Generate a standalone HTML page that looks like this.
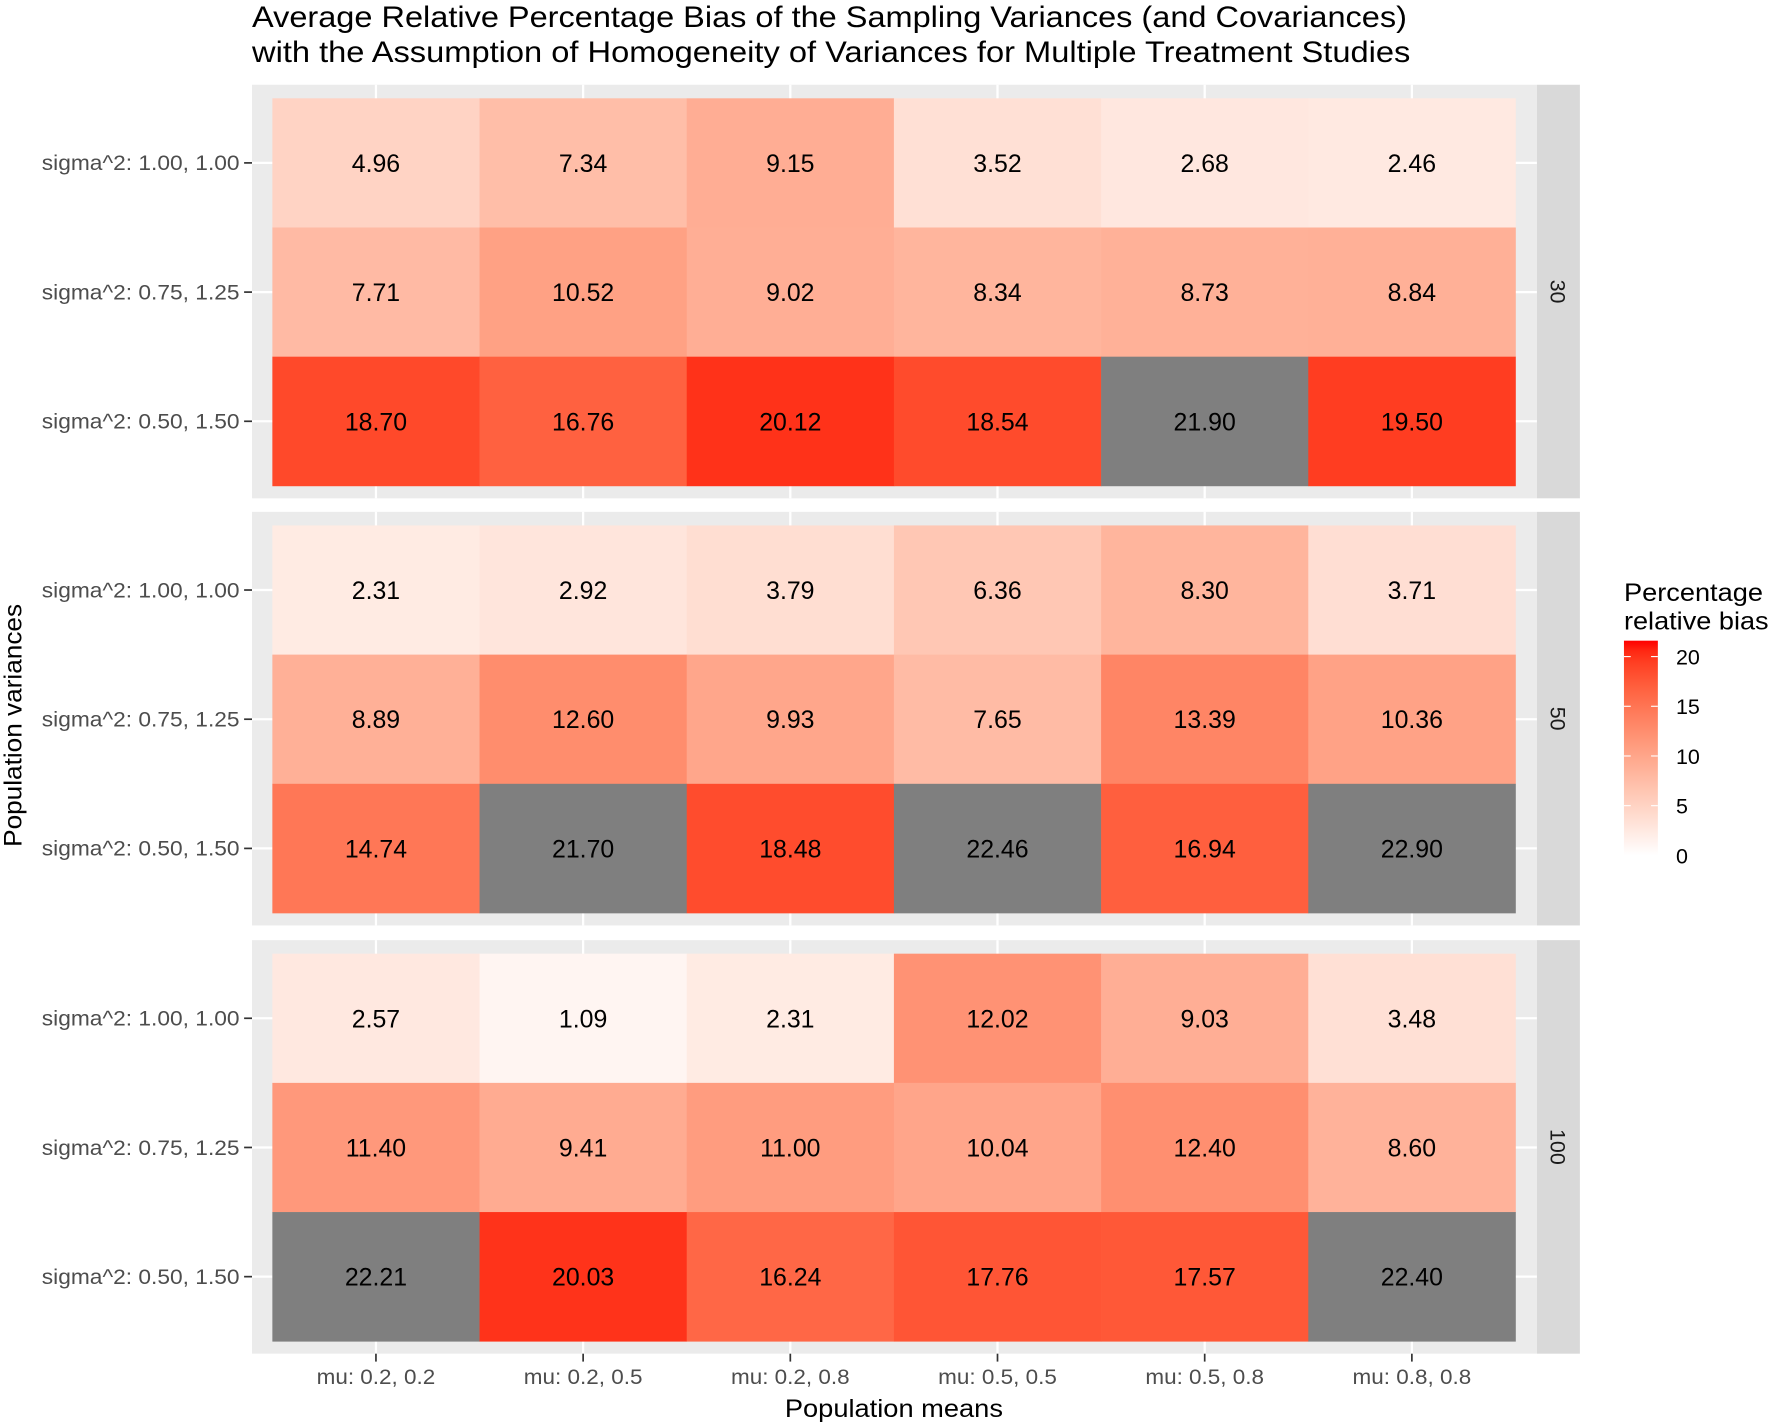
<!DOCTYPE html>
<html><head><meta charset="utf-8"><style>
html,body{margin:0;padding:0;background:#fff;}
svg{display:block;font-family:"Liberation Sans",Arial,sans-serif;}
</style></head><body>
<svg id="chart" width="1772" height="1426" viewBox="0 0 1568 1262" preserveAspectRatio="none" xmlns="http://www.w3.org/2000/svg">
<text x="223" y="24" font-size="26" textLength="1022" lengthAdjust="spacingAndGlyphs" fill="#000">Average Relative Percentage Bias of the Sampling Variances (and Covariances)</text>
<text x="223" y="55" font-size="26" textLength="1025" lengthAdjust="spacingAndGlyphs" fill="#000">with the Assumption of Homogeneity of Variances for Multiple Treatment Studies</text>
<g id="panels"></g>
<text x="791" y="1254" font-size="22" textLength="193" lengthAdjust="spacingAndGlyphs" text-anchor="middle" fill="#000">Population means</text>
<text transform="translate(19,642) rotate(-90)" font-size="22" textLength="215" lengthAdjust="spacingAndGlyphs" text-anchor="middle" fill="#000">Population variances</text>
<g id="legend">
<text x="1437" y="532" font-size="22" textLength="123" lengthAdjust="spacingAndGlyphs" fill="#000">Percentage</text>
<text x="1437" y="557" font-size="22" textLength="128" lengthAdjust="spacingAndGlyphs" fill="#000">relative bias</text>
<defs><linearGradient id="lg" x1="0" y1="1" x2="0" y2="0"></linearGradient></defs>
</g>
</svg>
<script>
const columns = ["mu: 0.2, 0.2","mu: 0.2, 0.5","mu: 0.2, 0.8","mu: 0.5, 0.5","mu: 0.5, 0.8","mu: 0.8, 0.8"];
const rows = ["sigma^2: 1.00, 1.00","sigma^2: 0.75, 1.25","sigma^2: 0.50, 1.50"];
const facets = ["30","50","100"];
const values30 = [[4.96,7.34,9.15,3.52,2.68,2.46],[7.71,10.52,9.02,8.34,8.73,8.84],[18.70,16.76,20.12,18.54,21.90,19.50]];
const values50 = [[2.31,2.92,3.79,6.36,8.30,3.71],[8.89,12.60,9.93,7.65,13.39,10.36],[14.74,21.70,18.48,22.46,16.94,22.90]];
const values100 = [[2.57,1.09,2.31,12.02,9.03,3.48],[11.40,9.41,11.00,10.04,12.40,8.60],[22.21,20.03,16.24,17.76,17.57,22.40]];
const legendTicks = [0,5,10,15,20];
const colorMin = 0, colorMax = 21.6;

const NS = "http://www.w3.org/2000/svg";
function mk(tag, attrs, parent){const e=document.createElementNS(NS,tag);for(const k in attrs)e.setAttribute(k,attrs[k]);parent.appendChild(e);return e;}
function toLin(c){c/=255;return c<=0.04045?c/12.92:Math.pow((c+0.055)/1.055,2.4);}
function fromLin(c){c=c<=0.0031308?12.92*c:1.055*Math.pow(c,1/2.4)-0.055;return Math.max(0,Math.min(255,Math.round(c*255)));}
function rgb2lab(r,g,b){r=toLin(r);g=toLin(g);b=toLin(b);
 let x=(r*0.4124+g*0.3576+b*0.1805)/0.95047,y=(r*0.2126+g*0.7152+b*0.0722),z=(r*0.0193+g*0.1192+b*0.9505)/1.08883;
 const f=t=>t>0.008856?Math.cbrt(t):7.787*t+16/116;x=f(x);y=f(y);z=f(z);return [116*y-16,500*(x-y),200*(y-z)];}
function lab2rgb(L,a,bb){let y=(L+16)/116,x=a/500+y,z=y-bb/200;const fi=t=>t*t*t>0.008856?t*t*t:(t-16/116)/7.787;
 x=fi(x)*0.95047;y=fi(y);z=fi(z)*1.08883;
 const r=x*3.2406+y*-1.5372+z*-0.4986,g=x*-0.9689+y*1.8758+z*0.0415,b=x*0.0557+y*-0.2040+z*1.0570;
 return "rgb("+fromLin(r)+","+fromLin(g)+","+fromLin(b)+")";}
const labW=rgb2lab(255,255,255),labR=rgb2lab(255,0,0);
function color(v){if(v>colorMax||v<colorMin)return "#7f7f7f";const t=(v-colorMin)/(colorMax-colorMin);
 return lab2rgb(labW[0]+(labR[0]-labW[0])*t,labW[1]+(labR[1]-labW[1])*t,labW[2]+(labR[2]-labW[2])*t);}

const tileX0=241, tileW=(1341-241)/6, panelX0=223, panelX1=1360;
const panelTops=[75,453,832], panelH=366, tileTopOff=12, tileH=(343)/3;
function xCenter(i){return tileX0+tileW*(i+0.5);}
function yCenter(p,j){return panelTops[p]+tileTopOff+tileH*(j+0.5);}
const allValues=[values30,values50,values100];
const root=document.getElementById("panels");
facets.forEach((f,p)=>{
  const g=mk("g",{},root);
  
  
  const bg=mk("rect",{x:panelX0,y:panelTops[p],width:panelX1-panelX0,height:panelH,fill:"#ebebeb"},g);
  
  
  columns.forEach((c,i)=>{const l=mk("line",{x1:xCenter(i),x2:xCenter(i),y1:panelTops[p],y2:panelTops[p]+panelH,stroke:"#fff","stroke-width":2},g);
    
    });
  rows.forEach((r,j)=>{const l=mk("line",{x1:panelX0,x2:panelX1,y1:yCenter(p,j),y2:yCenter(p,j),stroke:"#fff","stroke-width":2},g);
    
    });
  rows.forEach((r,j)=>{columns.forEach((c,i)=>{
    const v=allValues[p][j][i];
    const rc=mk("rect",{x:tileX0+tileW*i,y:panelTops[p]+tileTopOff+tileH*j,width:tileW+0.3,height:tileH+0.3,fill:color(v)},g);
    
    
    const t=mk("text",{x:xCenter(i),y:yCenter(p,j)+8,"font-size":22,"text-anchor":"middle",fill:"#000"},g);
    t.textContent=v.toFixed(2);
    
    
  });
    const lab=mk("text",{x:212,y:yCenter(p,j)+6.5,"font-size":18.5,"text-anchor":"end",textLength:175,lengthAdjust:"spacingAndGlyphs",fill:"#4d4d4d"},g);
    lab.textContent=r;
    
    
    const tk=mk("line",{x1:216,x2:223,y1:yCenter(p,j),y2:yCenter(p,j),stroke:"#333","stroke-width":1.5},g);
    
    
  });
  const st=mk("rect",{x:1360,y:panelTops[p],width:38,height:panelH,fill:"#d9d9d9"},g);
  
  
  const sy=panelTops[p]+panelH/2;
  const stt=mk("text",{transform:"translate(1372,"+sy+") rotate(90)","font-size":19,"text-anchor":"middle",fill:"#1a1a1a"},g);
  stt.textContent=f;
  
  
});
columns.forEach((c,i)=>{
  const tk=mk("line",{x1:xCenter(i),x2:xCenter(i),y1:1198,y2:1205,stroke:"#333","stroke-width":1.5},root);
  
  
  const t=mk("text",{x:xCenter(i),y:1225,"font-size":18.5,"text-anchor":"middle",textLength:105,lengthAdjust:"spacingAndGlyphs",fill:"#4d4d4d"},root);
  t.textContent=c;
  
  
});
const lg=document.getElementById("lg");
for(let k=0;k<=20;k++){const v=colorMin+(colorMax-colorMin)*k/20;mk("stop",{offset:(k/20*100)+"%","stop-color":color(v)},lg);}
const leg=document.getElementById("legend");
const barX=1437,barW=30,barBottom=757,barTop=567;
function legY(v){return barBottom-(v-colorMin)/(colorMax-colorMin)*(barBottom-barTop);}
const bar=mk("rect",{x:barX,y:barTop,width:barW,height:barBottom-barTop,fill:"url(#lg)"},leg);


legendTicks.forEach(v=>{
  const y=legY(v);
  const a=mk("line",{x1:barX,x2:barX+6,y1:y,y2:y,stroke:"#fff","stroke-width":1},leg);
  
  
  const b=mk("line",{x1:barX+barW-6,x2:barX+barW,y1:y,y2:y,stroke:"#fff","stroke-width":1},leg);
  
  
  const t=mk("text",{x:1483,y:y+7,"font-size":19,fill:"#000"},leg);
  t.textContent=v;
  
  
});
</script>
</body></html>
